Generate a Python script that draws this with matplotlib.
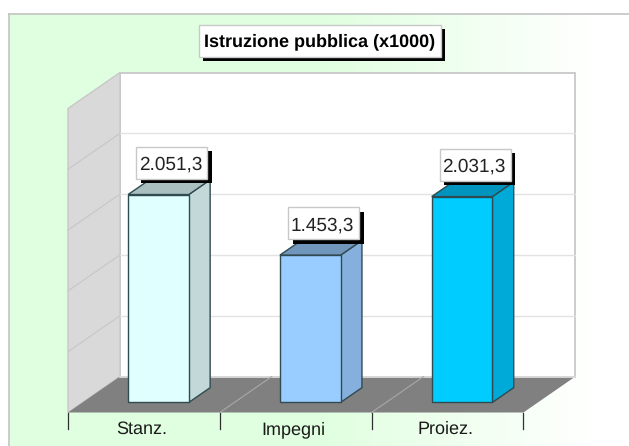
import numpy as np
import matplotlib
matplotlib.use("Agg")
import matplotlib.pyplot as plt
from matplotlib.colors import LinearSegmentedColormap, ListedColormap
from matplotlib.patches import Polygon, Rectangle

categories = ["Stanz.", "Impegni", "Proiez."]
values = [2051.3, 1453.3, 2031.3]
value_labels = ["2.051,3", "1.453,3", "2.031,3"]
title = "Istruzione pubblica (x1000)"
y_ticks = [0, 600, 1200, 1800, 2400, 3000]
front_colors = ["#E0FFFF", "#99CCFF", "#00CCFF"]
side_colors = ["#C2D8D9", "#85AFDC", "#00AAD8"]
top_colors = ["#A9BFC0", "#7196BC", "#0095BE"]

W, H = 629, 446
PX_X = 151.8           # pixels per category
PX_Y = 304.0 / 3000.0  # pixels per value unit
X0, Y0 = 68.0, 412.5   # pixel position of the front origin
DX = 52.0 / PX_X       # full chart depth, data units
DY = 36.0 / PX_Y
BAR_W = 0.40
D_NEAR, D_FAR = 0.28, 0.69

plt.rcParams["font.family"] = ["Liberation Sans", "DejaVu Sans"]
plt.rcParams["text.hinting"] = "no_hinting"
plt.rcParams["text.hinting_factor"] = 1
fig = plt.figure(figsize=(W / 100, H / 100), dpi=100, facecolor="white")
ax = fig.add_axes([0, 0, 1, 1])

def pxw(p): return p / PX_X
def pxh(p): return p / PX_Y
def inv_x(p): return (p - X0) / PX_X
def inv_y(p): return (Y0 - p) / PX_Y
def proj(x, v, d): return (x + d * DX, v + d * DY)

# panel background: pale green fading to white
base = LinearSegmentedColormap.from_list("bg", ["#E0FFE0", "#E0FFE0", "#FFFFFF"])
pl, pr, pt, pb = inv_x(9.5), inv_x(W), inv_y(13.5), inv_y(H)
ax.imshow(np.linspace(0, 1, 256).reshape(1, -1),
          cmap=ListedColormap(base(np.clip((np.linspace(0, 1, 256) - 0.05) / 0.9, 0, 1))),
          extent=[pl, pr, pb, pt], aspect="auto", zorder=0)
ax.set_xlim(-X0 / PX_X, (W - X0) / PX_X)
ax.set_ylim((Y0 - H) / PX_Y, Y0 / PX_Y)
ax.axis("off")
ax.plot([pl, pl], [pb, pt], color="#C4C4C4", lw=1.2, zorder=1)
ax.plot([pl, pr], [pt, pt], color="#C4C4C4", lw=1.2, zorder=1)

n = len(categories)
vmax = y_ticks[-1]

# walls and floor
ax.add_patch(Polygon([proj(0, 0, 1), proj(n, 0, 1), proj(n, vmax, 1), proj(0, vmax, 1)],
                     fc="white", ec="#C8C8C8", lw=1.3, zorder=2))
ax.add_patch(Polygon([proj(0, 0, 0), proj(0, 0, 1), proj(0, vmax, 1), proj(0, vmax, 0)],
                     fc="#D9D9D9", ec="#C8C8C8", lw=1.0, zorder=2))
ax.add_patch(Polygon([proj(0, 0, 0), proj(n, 0, 0), proj(n, 0, 1), proj(0, 0, 1)],
                     fc="#808080", ec="none", zorder=3))
for t in y_ticks[1:-1]:
    a, b, c = proj(0, t, 0), proj(0, t, 1), proj(n, t, 1)
    ax.plot([a[0], b[0]], [a[1], b[1]], color="#C8C8C8", lw=0.9, zorder=2.5)
    ax.plot([b[0], c[0]], [b[1], c[1]], color="#E2E2E2", lw=1.0, zorder=2.5)
ax.plot(*zip(proj(0, 0, 1), proj(n, 0, 1)), color="#DDDDDD", lw=1.3, zorder=3.1)
for i in range(1, n):
    ax.plot(*zip(proj(i, 0, 0), proj(i, 0, 1)), color="#A8A8A8", lw=0.8, zorder=3.1)

# ticks and category labels
for i in range(n + 1):
    ax.plot([i, i], [0, -pxh(16)], color="#303030", lw=0.9, zorder=3)
for i, c in enumerate(categories):
    ax.text(i + 0.5 - pxw(2), -pxh(21.5), c, ha="center", va="baseline", fontsize=12.7,
            color="#1A1A1A", zorder=5)

# bars
edge = "#2F4A50"
for i, (v, fc, sc, tc, lab) in enumerate(zip(values, front_colors, side_colors, top_colors, value_labels)):
    x1, x2 = i + 0.5 - BAR_W / 2, i + 0.5 + BAR_W / 2
    ax.add_patch(Polygon([proj(x2, 0, D_NEAR), proj(x2, 0, D_FAR), proj(x2, v, D_FAR), proj(x2, v, D_NEAR)],
                         fc=sc, ec=edge, lw=1.0, zorder=4))
    ax.add_patch(Polygon([proj(x1, v, D_NEAR), proj(x2, v, D_NEAR), proj(x2, v, D_FAR), proj(x1, v, D_FAR)],
                         fc=tc, ec=edge, lw=1.0, zorder=4))
    ax.add_patch(Polygon([proj(x1, 0, D_NEAR), proj(x2, 0, D_NEAR), proj(x2, v, D_NEAR), proj(x1, v, D_NEAR)],
                         fc=fc, ec=edge, lw=1.0, zorder=4.1))
    # value label with hard shadow
    cx, vy = proj(i + 0.5, v, D_FAR)
    cx = cx - pxw(8)
    bw, bh = pxw(71), pxh(32)
    ax.add_patch(Rectangle((cx - bw / 2 + pxw(4.5), vy - pxh(3.5)), bw, bh, fc="black", ec="none", zorder=5))
    ax.add_patch(Rectangle((cx - bw / 2, vy + pxh(1)), bw, bh, fc="white", ec="#C8C8C8", lw=1.0, zorder=5.1))
    ax.text(cx - pxw(1.5), vy + pxh(10), lab, ha="center", va="baseline", fontsize=13.5,
            color="#222222", zorder=5.2)

# title box with hard shadow
tx, ty = inv_x(319.5), inv_y(41)
tw, th = pxw(242), pxh(32)
ax.add_patch(Rectangle((tx - tw / 2 + pxw(4.5), ty - th / 2 - pxh(4)), tw, th, fc="black", ec="none", zorder=5))
ax.add_patch(Rectangle((tx - tw / 2, ty - th / 2), tw, th, fc="white", ec="#C8C8C8", lw=1.0, zorder=5.1))
ax.text(tx, ty - pxh(5), title, ha="center", va="baseline", fontsize=13.1, fontweight="bold",
        color="black", zorder=5.2)

fig.savefig("out.png", dpi=100, facecolor="white")
